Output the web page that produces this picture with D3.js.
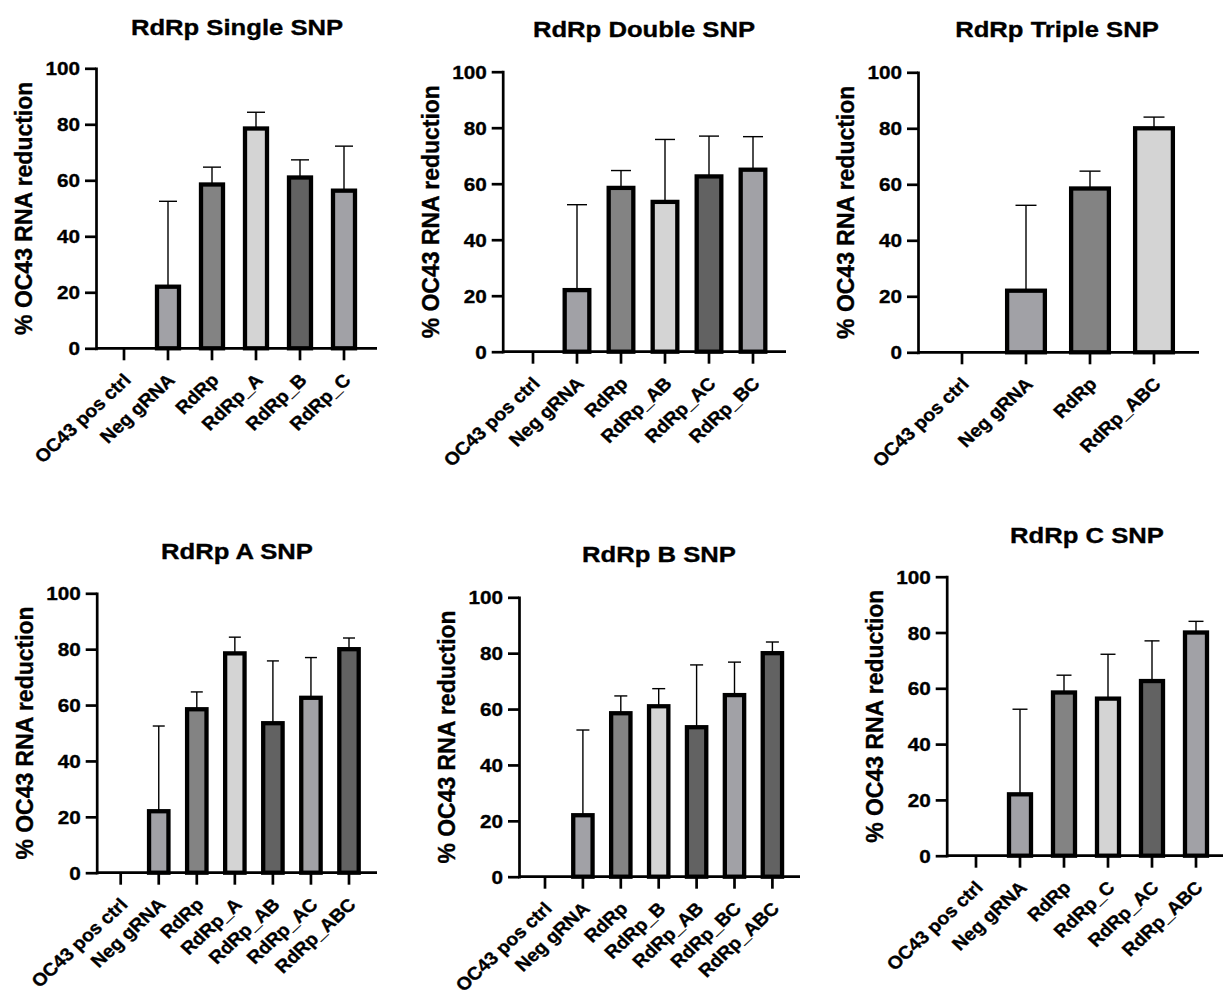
<!DOCTYPE html>
<html><head><meta charset="utf-8">
<script src="https://cdn.jsdelivr.net/npm/d3@7"></script>
<style>
body{margin:0;background:#fff}
svg{display:block}
text{font-family:"Liberation Sans",Arial,Helvetica,sans-serif;font-weight:bold;fill:#000;stroke:#000;stroke-width:0.35px}
</style>
</head><body>
<svg id="chart" width="1223" height="999"></svg>
<script>
// ---------- data ----------
const groups      = ["OC43 pos ctrl","Neg gRNA","RdRp","RdRp_A","RdRp_B","RdRp_C","RdRp_AB","RdRp_AC","RdRp_BC","RdRp_ABC"];
const meanValues  = [0, 22, 58.5, 78.5, 61, 56.3, 53.5, 62.6, 65, 80];
const upperErrors = [0, 30.5, 6.2, 5.8, 6.3, 15.9, 22.3, 14.4, 11.8, 4];
const yTicks = [0, 20, 40, 60, 80, 100];
const yLabel = "% OC43 RNA reduction";
const panelTitles = ["RdRp Single SNP","RdRp Double SNP","RdRp Triple SNP","RdRp A SNP","RdRp B SNP","RdRp C SNP"];
const panelGroups = [
  ["OC43 pos ctrl","Neg gRNA","RdRp","RdRp_A","RdRp_B","RdRp_C"],
  ["OC43 pos ctrl","Neg gRNA","RdRp","RdRp_AB","RdRp_AC","RdRp_BC"],
  ["OC43 pos ctrl","Neg gRNA","RdRp","RdRp_ABC"],
  ["OC43 pos ctrl","Neg gRNA","RdRp","RdRp_A","RdRp_AB","RdRp_AC","RdRp_ABC"],
  ["OC43 pos ctrl","Neg gRNA","RdRp","RdRp_B","RdRp_AB","RdRp_BC","RdRp_ABC"],
  ["OC43 pos ctrl","Neg gRNA","RdRp","RdRp_C","RdRp_AC","RdRp_ABC"]
];

// ---------- style / layout ----------
const barFills = [null, "#a1a1a6", "#838383", "#d4d4d4", "#626262", "#a1a1a6", "#626262"];
const layouts = [
  {ax:96,    top:68.3,  bottom:348.3, first:124,   step:44,    xEnd:377,  pad:0.5,  cap:18, tx:237,  ty:34.5},
  {ax:502.7, top:71.7,  bottom:351.7, first:533,   step:44,    xEnd:786,  pad:0.44, cap:20, tx:644,  ty:37},
  {ax:918,   top:72.3,  bottom:352.3, first:962,   step:64,    xEnd:1199, pad:0.41, cap:21, tx:1057, ty:37},
  {ax:96.7,  top:593.3, bottom:872.7, first:120.7, step:38.05, xEnd:377,  pad:0.49, cap:12, tx:237,  ty:559},
  {ax:519,   top:597.3, bottom:876.7, first:545,   step:37.9,  xEnd:800,  pad:0.49, cap:13, tx:659,  ty:562},
  {ax:946.7, top:576.7, bottom:855.7, first:976,   step:44,    xEnd:1230, pad:0.5,  cap:15, tx:1087, ty:542.5}
];
const AXW = 2.7, BARW = 4.3, ERRW = 1.4, SX = 1.12, SXL = 1.08;

const svg = d3.select("#chart");

panelTitles.forEach((title, p) => {
  const L = layouts[p];
  const cats = panelGroups[p];
  const g = svg.append("g");

  const y = d3.scaleLinear().domain([0, 100]).range([L.bottom, L.top]);
  const r0 = L.first - L.step / 2;
  const x = d3.scaleBand().domain(cats)
    .range([r0, r0 + cats.length * L.step])
    .paddingInner(L.pad).paddingOuter(L.pad / 2);

  const rows = cats.map((c, i) => {
    const k = groups.indexOf(c);
    return {cat: c, mean: meanValues[k], err: upperErrors[k], fill: barFills[i]};
  }).filter(d => d.mean > 0);

  // error bars
  const eb = g.append("g").attr("stroke", "#000").attr("stroke-width", ERRW);
  eb.selectAll("line.v").data(rows).join("line")
    .attr("x1", d => x(d.cat) + x.bandwidth() / 2)
    .attr("x2", d => x(d.cat) + x.bandwidth() / 2)
    .attr("y1", d => y(d.mean))
    .attr("y2", d => y(d.mean + d.err));
  eb.selectAll("line.c").data(rows).join("line")
    .attr("x1", d => x(d.cat) + x.bandwidth() / 2 - L.cap / 2)
    .attr("x2", d => x(d.cat) + x.bandwidth() / 2 + L.cap / 2)
    .attr("y1", d => y(d.mean + d.err))
    .attr("y2", d => y(d.mean + d.err));

  // bars
  g.append("g").selectAll("rect").data(rows).join("rect")
    .attr("x", d => x(d.cat))
    .attr("width", x.bandwidth())
    .attr("y", d => y(d.mean))
    .attr("height", d => y(0) - y(d.mean))
    .attr("fill", d => d.fill)
    .attr("stroke", "#000")
    .attr("stroke-width", BARW);

  // y axis
  const ya = g.append("g").attr("transform", `translate(${L.ax},0)`)
    .call(d3.axisLeft(y).tickValues(yTicks).tickSize(11).tickSizeOuter(0));
  ya.attr("font-family", null).attr("font-size", null);
  ya.select(".domain").attr("stroke-width", AXW).attr("stroke-linecap", "square");
  ya.selectAll(".tick line").attr("stroke-width", AXW);
  ya.selectAll(".tick text")
    .attr("font-size", 18.5)
    .attr("x", 0).attr("dy", null)
    .attr("dominant-baseline", "central")
    .attr("transform", `translate(-16,0) scale(${SX},1)`);

  // x axis
  const xa = g.append("g").attr("transform", `translate(0,${L.bottom})`)
    .call(d3.axisBottom(x).tickSize(12).tickSizeOuter(0));
  xa.select(".domain").remove();
  xa.attr("font-family", null).attr("font-size", null);
  xa.selectAll(".tick line").attr("stroke-width", AXW);
  xa.selectAll(".tick text")
    .attr("font-size", 18)
    .attr("x", 0).attr("y", 0).attr("dy", null)
    .attr("text-anchor", "end")
    .attr("transform", `translate(8,33) scale(${SXL},1) rotate(-45)`);
  g.append("line")
    .attr("x1", L.ax).attr("x2", L.xEnd)
    .attr("y1", L.bottom).attr("y2", L.bottom)
    .attr("stroke", "#000").attr("stroke-width", AXW);

  // y label
  g.append("text")
    .attr("transform", `translate(${L.ax - 64},${(L.top + L.bottom) / 2}) scale(1.07,1) rotate(-90)`)
    .attr("text-anchor", "middle")
    .attr("font-size", 23)
    .text(yLabel);

  // title
  g.append("text")
    .attr("transform", `translate(${L.tx},${L.ty}) scale(1.14,1)`)
    .attr("text-anchor", "middle")
    .attr("font-size", 22.5)
    .text(title);
});
</script>
</body></html>
